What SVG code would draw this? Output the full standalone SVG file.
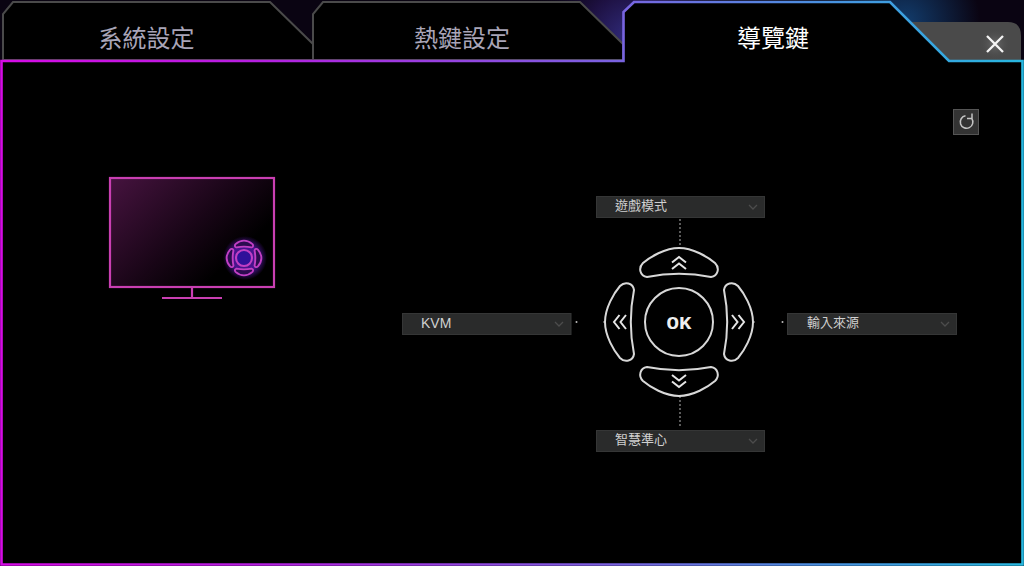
<svg xmlns="http://www.w3.org/2000/svg" width="1024" height="566" viewBox="0 0 1024 566">
<style>
.tab{fill:#000;stroke:#4a4a4a;stroke-width:2}
.tabt{font-family:"Noto Sans CJK TC","Liberation Sans",sans-serif;font-size:24px;text-anchor:middle;fill:#a9a5b8}
.dd{fill:#2a2b2b;stroke:#353636;stroke-width:1}
.ddt{font-family:"Noto Sans CJK TC","Liberation Sans",sans-serif;font-size:13px;fill:#d0d0d0}
.ddc{fill:none;stroke:#4c4c4c;stroke-width:1.3}
.btn{fill:none;stroke:#d8d8d8;stroke-width:2}
.chev{fill:none;stroke:#e6e6e6;stroke-width:2}
.dot{fill:none;stroke:#8a8a8a;stroke-width:1.3;stroke-dasharray:2 2}
.sm{fill:#2c0c50;stroke:#c13fc4;stroke-width:8}
</style>
<defs>
<linearGradient id="bord" gradientUnits="userSpaceOnUse" x1="0" y1="0" x2="1024" y2="0">
<stop offset="0" stop-color="#d60be6"/><stop offset=".25" stop-color="#b61fe0"/><stop offset=".6" stop-color="#7a62e0"/><stop offset=".8" stop-color="#4a90e0"/><stop offset="1" stop-color="#28b8e0"/>
</linearGradient>
<linearGradient id="screen" x1="0" y1="0" x2="1" y2=".7">
<stop offset="0" stop-color="#46133f"/><stop offset=".55" stop-color="#180516"/><stop offset=".85" stop-color="#000"/>
</linearGradient>
<radialGradient id="neb" gradientUnits="userSpaceOnUse" cx="632" cy="40" r="110">
<stop offset="0" stop-color="#322d80"/><stop offset=".45" stop-color="#1d1040"/><stop offset="1" stop-color="#0a0412" stop-opacity="0"/>
</radialGradient>
<radialGradient id="neb2" gradientUnits="userSpaceOnUse" cx="905" cy="22" r="75">
<stop offset="0" stop-color="#123c6c"/><stop offset="1" stop-color="#123c6c" stop-opacity="0"/>
</radialGradient>
<radialGradient id="x"><stop offset="0" stop-color="#6a6a6a"/><stop offset="1" stop-color="#4a4a4a" stop-opacity="0"/></radialGradient>
<radialGradient id="glow"><stop offset=".6" stop-color="#5a18b0" stop-opacity=".8"/><stop offset="1" stop-color="#5a18b0" stop-opacity="0"/></radialGradient>
<path id="pad" d="M0,-74C14,-74 29,-65 36,-59C41,-54 39,-46 32,-45C12,-49 -12,-49 -32,-45C-39,-46 -41,-54 -36,-59C-29,-65 -14,-74 0,-74Z"/>
<path id="arr" d="M-7,-53L0,-58.500L7,-53M-7,-59.500L0,-65L7,-59.500"/>
<path id="ddchev" d="M-4,-2L0,2L4,-2"/>
</defs>
<rect width="1024" height="566" fill="#000"/>
<rect width="1024" height="62" fill="#0a0412"/>
<rect x="500" width="260" height="62" fill="url(#neb)"/>
<rect x="820" width="204" height="62" fill="url(#neb2)"/>
<g id="close-tab">
<path d="M905,60V22H1008Q1021,22 1021,36V60Z" fill="#4a4a4a"/>
<circle cx="995" cy="44" r="16" fill="url(#x)"/>
<path d="M987,36L1003,52M1003,36L987,52" stroke="#f4f4f4" stroke-width="2.300" fill="none"/>
</g>
<g id="tab-system">
<path class="tab" d="M3,60V14L13,2H270L313,44V60Z"/>
<text class="tabt" x="146.500" y="46.500">系統設定</text>
</g>
<g id="tab-hotkey">
<path class="tab" d="M313,60V14L323,2H580L623,44V60Z"/>
<text class="tabt" x="462" y="46.500">熱鍵設定</text>
</g>
<g id="panel">
<path d="M1.500,61H623.500V12L634,2H890L949,61H1022.500V564.500H1.500Z" fill="#000" stroke="url(#bord)" stroke-width="2.600"/>
<text class="tabt" x="773" y="46.500" style="fill:#fff">導覽鍵</text>
</g>
<g id="reset">
<rect x="953.500" y="109.500" width="25" height="25" fill="#333" stroke="#555"/>
<path d="M965.500,115.800A6.300,6.300 0 1 0 971.800,118.500M972,113.500V118.500H967" fill="none" stroke="#c4c4c4" stroke-width="1.500"/>
</g>
<g id="monitor">
<rect x="110" y="178" width="164" height="109" fill="url(#screen)" stroke="#c93fb2" stroke-width="2.200"/>
<path d="M192,287V298M162,298H222" fill="none" stroke="#c93fb2" stroke-width="2.200"/>
<circle cx="245" cy="258" r="22" fill="url(#glow)"/>
<g transform="translate(244,258) scale(.235)">
<circle r="34" fill="#30109a" stroke="#c13fc4" stroke-width="9"/>
<use href="#pad" class="sm"/><use href="#pad" class="sm" transform="rotate(90)"/><use href="#pad" class="sm" transform="rotate(180)"/><use href="#pad" class="sm" transform="rotate(270)"/>
</g>
</g>
<g id="connectors">
<path class="dot" d="M680,219V248M680,396V426"/>
<path d="M603,322H606M752,322H755" stroke="#aaa" stroke-width="1" fill="none"/>
<circle cx="576.500" cy="322" r="1" fill="#bbb"/>
<circle cx="782.500" cy="322" r="1" fill="#bbb"/>
</g>
<g id="dpad" transform="translate(679,322)">
<use href="#pad" class="btn"/>
<use href="#pad" class="btn" transform="rotate(90)"/>
<use href="#pad" class="btn" transform="rotate(180)"/>
<use href="#pad" class="btn" transform="rotate(270)"/>
<use href="#arr" class="chev"/>
<use href="#arr" class="chev" transform="rotate(90)"/>
<use href="#arr" class="chev" transform="rotate(180)"/>
<use href="#arr" class="chev" transform="rotate(270)"/>
<circle r="34" class="btn"/>
<text x="0" y="6.500" text-anchor="middle" font-family="'Liberation Mono',monospace" font-weight="700" font-size="19" fill="#eee" textLength="25" lengthAdjust="spacingAndGlyphs">OK</text>
</g>
<g id="dd-top">
<rect class="dd" x="596.500" y="196.500" width="168" height="21"/>
<text class="ddt" x="615" y="210">遊戲模式</text>
<use href="#ddchev" class="ddc" x="753" y="207"/>
</g>
<g id="dd-bottom">
<rect class="dd" x="596.500" y="430.500" width="168" height="21"/>
<text class="ddt" x="615" y="444">智慧準心</text>
<use href="#ddchev" class="ddc" x="753" y="441"/>
</g>
<g id="dd-left">
<rect class="dd" x="402.500" y="313.500" width="168.500" height="21"/>
<text class="ddt" x="421" y="328" style="font-size:14px;font-family:'Liberation Sans',sans-serif">KVM</text>
<use href="#ddchev" class="ddc" x="559" y="324"/>
</g>
<g id="dd-right">
<rect class="dd" x="787.500" y="313.500" width="169" height="21"/>
<text class="ddt" x="807" y="327">輸入來源</text>
<use href="#ddchev" class="ddc" x="945" y="324"/>
</g>
</svg>
